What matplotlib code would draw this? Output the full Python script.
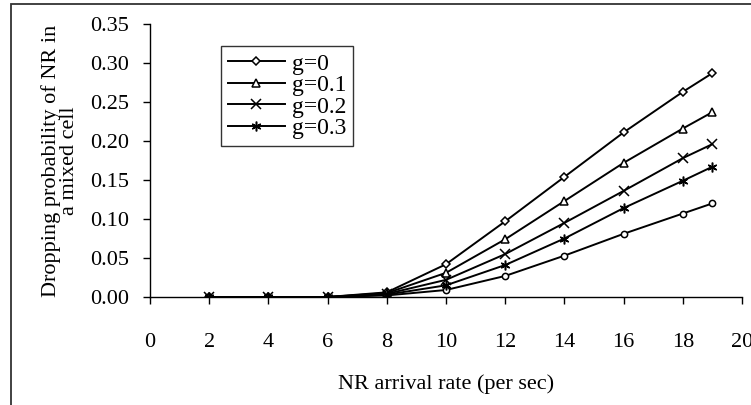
import matplotlib
matplotlib.use("Agg")
import matplotlib.pyplot as plt
from matplotlib.patches import Rectangle

# data
rate = [2, 4, 6, 8, 10, 12, 14, 16, 18, 19]
g0 = [0.0, 0.0, 0.0, 0.006, 0.042, 0.097, 0.154, 0.211, 0.263, 0.287]
g01 = [0.0, 0.0, 0.0, 0.005, 0.031, 0.074, 0.123, 0.172, 0.216, 0.237]
g02 = [0.0, 0.0, 0.0, 0.004, 0.022, 0.055, 0.095, 0.136, 0.178, 0.196]
g03 = [0.0, 0.0, 0.0, 0.003, 0.015, 0.041, 0.075, 0.114, 0.149, 0.167]
g_extra = [0.0, 0.0, 0.0, 0.002, 0.009, 0.027, 0.053, 0.081, 0.107, 0.120]

labels = ["g=0", "g=0.1", "g=0.2", "g=0.3"]
xticks = list(range(0, 21, 2))
yticks = [0.00, 0.05, 0.10, 0.15, 0.20, 0.25, 0.30, 0.35]

plt.rcParams["font.family"] = ["Liberation Serif", "DejaVu Serif"]
plt.rcParams["font.size"] = 16

fig = plt.figure(figsize=(7.51, 4.05), dpi=100)
ax = fig.add_axes([150 / 751, 1 - 297 / 405, 592 / 751, 273 / 405])

# outer chart border (cropped on the right in the reference)
fig.patches.append(Rectangle((11 / 751, -0.05), 1.2, 1 - 4 / 405 + 0.05,
                             transform=fig.transFigure, fill=False,
                             edgecolor="#333333", linewidth=1.3))

kw = dict(color="black", linewidth=1.4, markerfacecolor="white",
          markeredgecolor="black", markeredgewidth=1.1)
# unlabelled series first so the others sit on top of it
ax.plot(rate, g_extra, marker="o", markersize=4.5, label="_nolegend_", **kw)
ax.plot(rate, g0, marker="D", markersize=4.2, label=labels[0], **kw)
ax.plot(rate, g01, marker="^", markersize=6, label=labels[1], **kw)
ax.plot(rate, g02, marker="x", markersize=6.5, label=labels[2], **kw)
ax.plot(rate, g03, marker=(6, 2, 0), markersize=7, label=labels[3], **kw)

ax.set_xlim(0, 20)
ax.set_ylim(0, 0.35)
ax.set_xticks(xticks)
ax.set_yticks(yticks)
ax.set_yticklabels([f"{v:.2f}" for v in yticks])
ax.tick_params(direction="out", length=5, width=1)
ax.tick_params(axis="y", pad=10)
ax.tick_params(axis="x", pad=21)
for s in ["top", "right"]:
    ax.spines[s].set_visible(False)
ax.spines["left"].set_linewidth(1)
ax.spines["bottom"].set_linewidth(1)

ax.set_xlabel("NR arrival rate (per sec)", labelpad=16)
ax.set_ylabel("Dropping probability of NR in\na mixed cell", labelpad=8,
              linespacing=0.95)

leg = ax.legend(loc="upper left", bbox_to_anchor=(71 / 592, 1 - 22 / 273),
                frameon=True, fancybox=False, edgecolor="black",
                fontsize=17, borderpad=0.3, labelspacing=0.0,
                handlelength=2.4, handletextpad=0.3, borderaxespad=0)
leg.get_frame().set_linewidth(1)

fig.savefig("out.png", dpi=100)
